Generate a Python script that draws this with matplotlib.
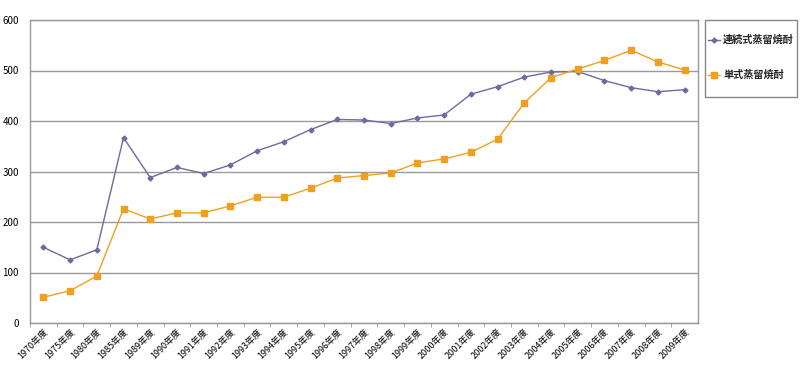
import matplotlib
matplotlib.use("Agg")
import matplotlib.pyplot as plt
from matplotlib.ticker import FixedLocator
from matplotlib.patches import Rectangle
from matplotlib.lines import Line2D

plt.rcParams['font.family'] = ['Noto Sans CJK JP', 'DejaVu Sans']

years = ["1970", "1975", "1980", "1985", "1989", "1990", "1991", "1992", "1993",
         "1994", "1995", "1996", "1997", "1998", "1999", "2000", "2001", "2002",
         "2003", "2004", "2005", "2006", "2007", "2008", "2009"]
labels = [y + "年度" for y in years]
continuous = [150, 125, 145, 367, 288, 308, 296, 313, 341, 359, 383, 403, 402, 395,
              406, 412, 453, 468, 487, 497, 498, 480, 466, 458, 462]
single = [51, 64, 93, 226, 206, 218, 218, 232, 249, 249, 267, 287, 292, 297,
          317, 325, 338, 364, 436, 486, 503, 520, 540, 517, 501]
series_names = ["連続式蒸留焼酎", "単式蒸留焼酎"]
colors = ["#6E6A9E", "#F0A020"]
markers = [("D", 2.5), ("s", 4)]

W, H = 800, 370
fig = plt.figure(figsize=(8, 3.7), dpi=100)
ax = fig.add_axes([30 / W, 1 - 323 / H, 668 / W, 303 / H])

x = list(range(len(labels)))
for vals, c, (m, ms), name in zip([continuous, single], colors, markers, series_names):
    ax.plot(x, vals, color=c, marker=m, markersize=ms, linewidth=1.0, label=name)

ax.set_xlim(-0.5, len(labels) - 0.5)
ax.set_ylim(0, 600)
ax.set_yticks(range(0, 601, 100))
ax.yaxis.grid(True, color="#999999", linewidth=1.0)
ax.set_axisbelow(True)
ax.set_xticks(x)
ax.set_xticklabels(labels, rotation=45, ha="right", rotation_mode="anchor", fontsize=6.5)
ax.tick_params(axis="x", length=0, pad=3)
ax.xaxis.set_minor_locator(FixedLocator([i + 0.5 for i in range(len(labels) - 1)] + [-0.5]))
ax.tick_params(axis="x", which="minor", length=3, color="#999999")
ax.tick_params(axis="y", length=0, labelsize=7, pad=8)
for s in ax.spines.values():
    s.set_color("#999999")
    s.set_linewidth(1.0)

# legend box drawn in figure pixel coordinates
fig.patches.append(Rectangle((705 / W, 1 - 97 / H), 92 / W, 77 / H, transform=fig.transFigure,
                             facecolor="white", edgecolor="#888888", linewidth=1.0))
for i, (name, c, (m, ms)) in enumerate(zip(series_names, colors, markers)):
    yy = 1 - (40 + 35 * i) / H
    fig.lines.append(Line2D([708 / W, 720 / W], [yy, yy], transform=fig.transFigure,
                            color=c, linewidth=1.0))
    fig.lines.append(Line2D([714 / W], [yy], transform=fig.transFigure, color=c,
                            marker=m, markersize=ms, linestyle="none"))
    fig.text(723 / W, yy, name, fontsize=7.3, fontweight="bold", va="center", ha="left",
             color="#222222")

fig.savefig("out.png", dpi=100)
